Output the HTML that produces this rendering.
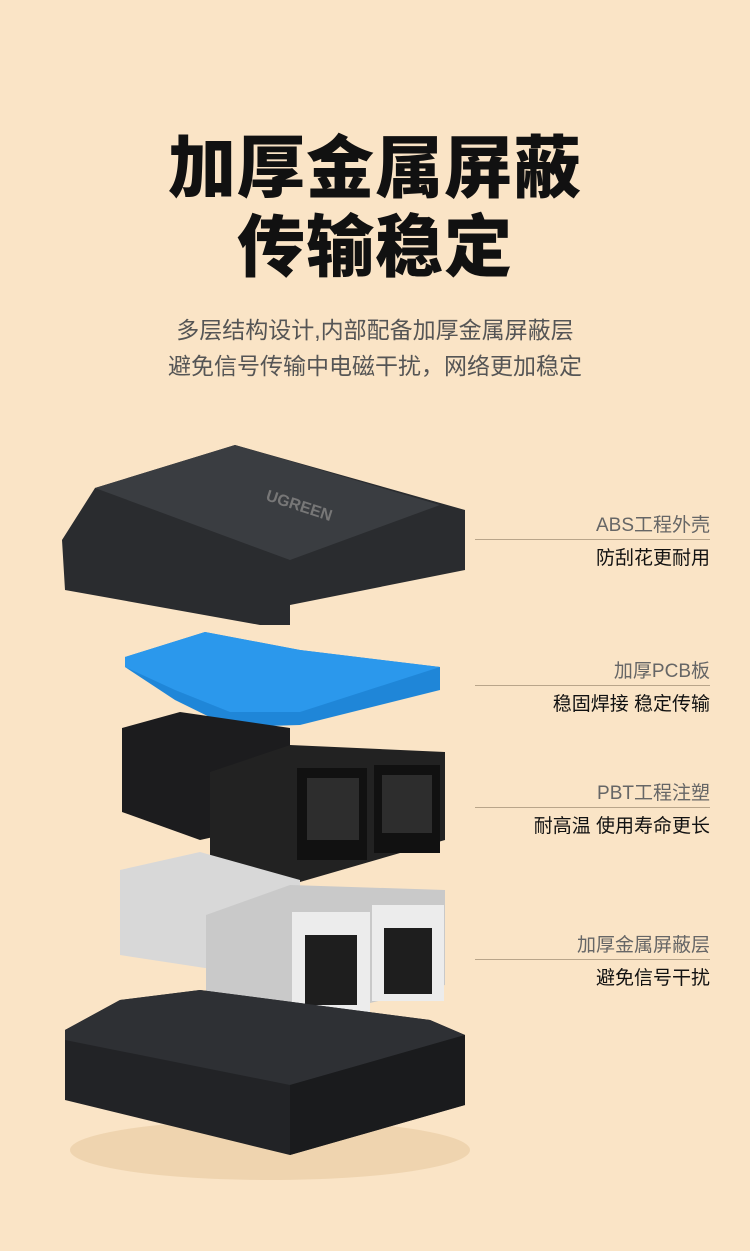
<!DOCTYPE html>
<html><head><meta charset="utf-8"><style>
body{margin:0;width:750px;height:1251px;background:#fae4c6;font-family:"Liberation Sans","Noto Sans CJK SC",sans-serif;position:relative;overflow:hidden}
.t{position:absolute;left:0;width:750px;text-align:center;font-weight:900;font-size:68px;color:#111;letter-spacing:1px}
.s{position:absolute;left:0;width:750px;text-align:center;font-size:23px;color:#555}
.lab{position:absolute;right:40px;text-align:right}
.lab .a{font-size:19px;color:#666;padding-bottom:2px;border-bottom:1px solid #b9a58a;width:235px;margin-left:auto}
.lab .b{font-size:19px;color:#111;padding-top:3px}
</style></head><body>
<div class="t" style="top:113px">加厚金属屏蔽</div>
<div class="t" style="top:192px">传输稳定</div>
<div class="s" style="top:311px">多层结构设计,内部配备加厚金属屏蔽层</div>
<div class="s" style="top:347px">避免信号传输中电磁干扰，网络更加稳定</div>
<svg style="position:absolute;left:0;top:0" width="750" height="1251">
<ellipse cx="270" cy="1150" rx="200" ry="30" fill="#e8c9a0" opacity=".6"/>
<polygon points="62,540 95,488 235,445 465,510 465,570 290,605 290,625 260,625 65,590" fill="#2a2c2f"/>
<polygon points="95,488 235,445 440,505 290,560" fill="#3a3d41"/>
<text x="265" y="500" fill="#777" font-size="16" font-weight="bold" transform="rotate(18 265 500)">UGREEN</text>
<polygon points="125,657 205,632 300,650 440,667 440,690 300,725 230,727 175,700 125,667" fill="#1f86d8"/>
<polygon points="125,657 205,632 300,650 440,667 300,712 230,712 175,690 125,667" fill="#2b98ec"/>
<polygon points="122,728 180,712 290,728 290,820 200,840 122,812" fill="#1c1c1e"/>
<polygon points="210,772 290,745 445,752 445,840 300,882 210,860" fill="#222"/>
<rect x="297" y="768" width="70" height="92" fill="#111"/>
<rect x="374" y="765" width="66" height="88" fill="#111"/>
<rect x="307" y="778" width="52" height="62" fill="#2d2d2d"/>
<rect x="382" y="775" width="50" height="58" fill="#2d2d2d"/>
<polygon points="120,870 200,852 300,880 300,970 205,968 120,955" fill="#d8d8d8"/>
<polygon points="206,915 290,885 445,890 445,985 370,1003 290,1012 206,1008" fill="#c9c9c9"/>
<rect x="292" y="912" width="78" height="100" fill="#ececec"/>
<rect x="372" y="905" width="72" height="96" fill="#ececec"/>
<rect x="305" y="935" width="52" height="70" fill="#1e1e1e"/>
<rect x="384" y="928" width="48" height="66" fill="#1e1e1e"/>
<polygon points="65,1030 120,1000 200,990 430,1020 465,1035 465,1105 290,1155 65,1100" fill="#222326"/>
<polygon points="65,1030 120,1000 200,990 430,1020 465,1035 290,1085 65,1040" fill="#2e3034"/>
<polygon points="290,1085 465,1035 465,1105 290,1155" fill="#1a1b1d"/>
</svg>
<div class="lab" style="top:510px"><div class="a">ABS工程外壳</div><div class="b">防刮花更耐用</div></div>
<div class="lab" style="top:656px"><div class="a">加厚PCB板</div><div class="b">稳固焊接 稳定传输</div></div>
<div class="lab" style="top:778px"><div class="a">PBT工程注塑</div><div class="b">耐高温 使用寿命更长</div></div>
<div class="lab" style="top:930px"><div class="a">加厚金属屏蔽层</div><div class="b">避免信号干扰</div></div>
</body></html>
